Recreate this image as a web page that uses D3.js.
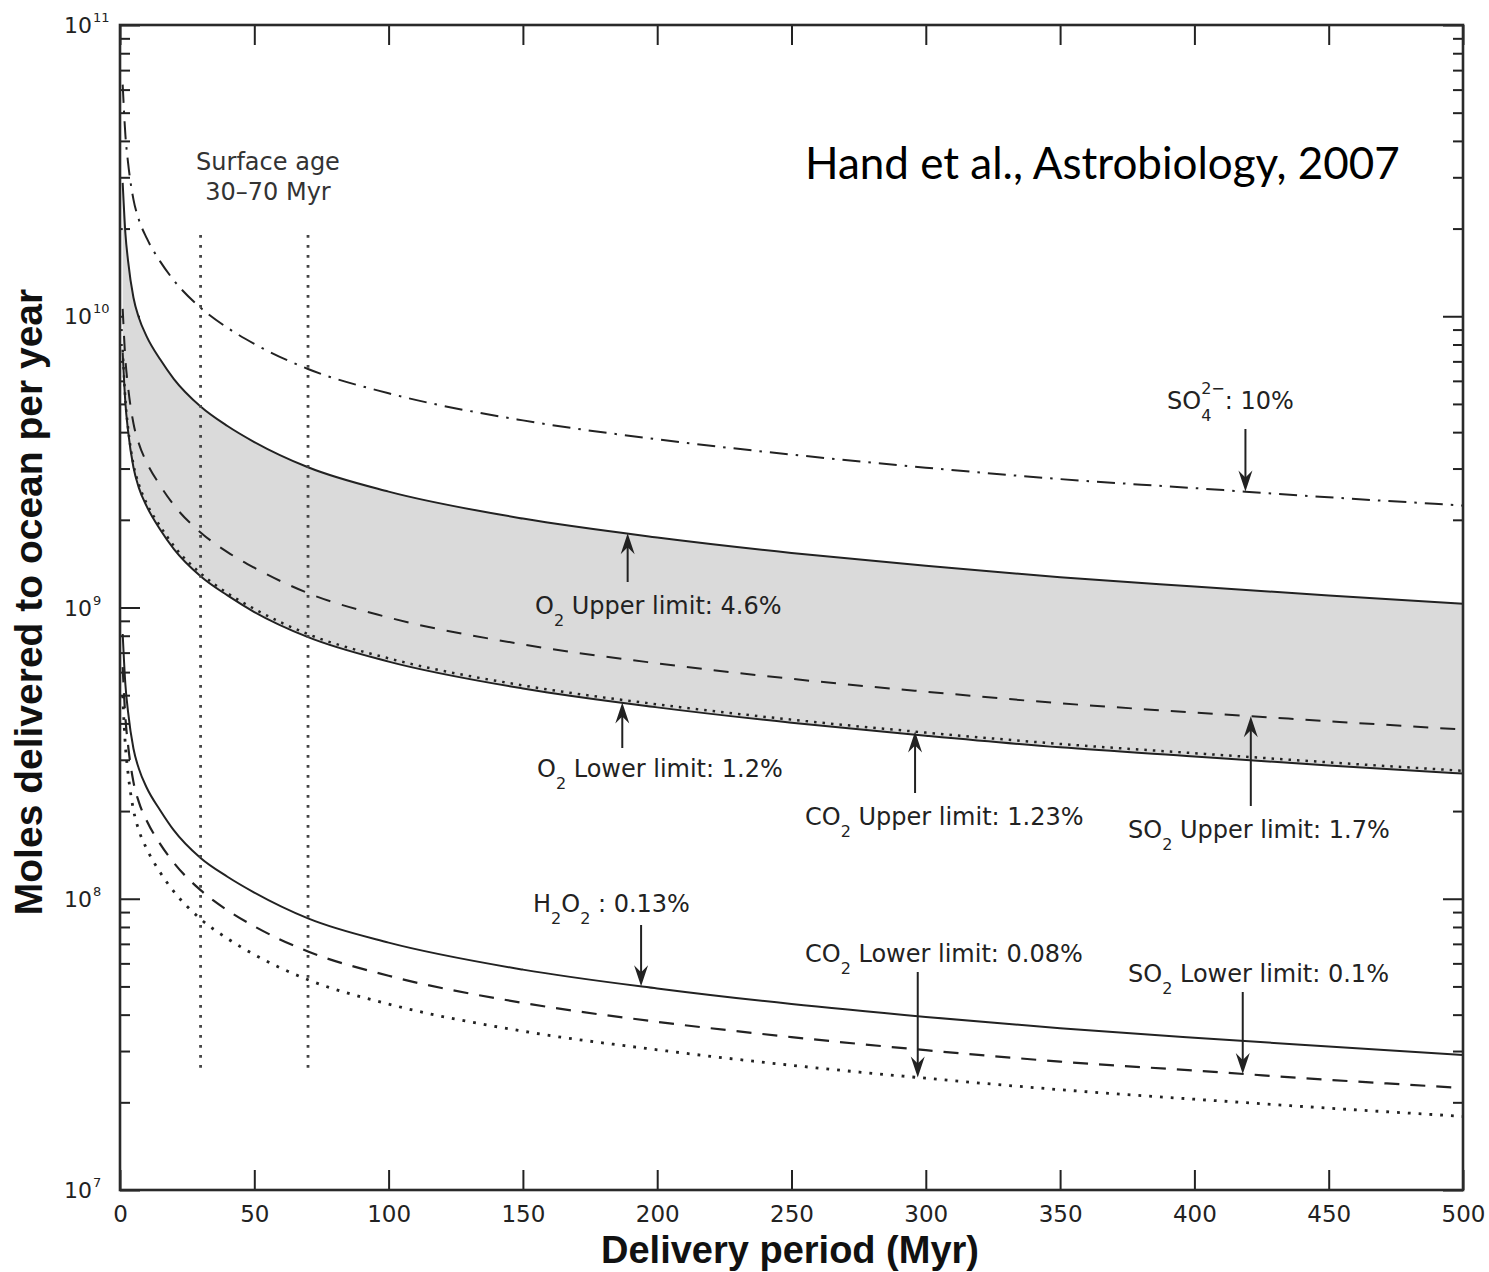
<!DOCTYPE html>
<html>
<head>
<meta charset="utf-8">
<script src="https://cdn.jsdelivr.net/npm/d3@7"></script>
<style>
  html, body { margin: 0; padding: 0; background: #fff; }
  svg { display: block; }
</style>
</head>
<body>
<svg id="chart" width="1489" height="1272"></svg>
<script>
// Delivery period samples (Myr)
const periods = [1, 2, 3, 5, 7, 10, 15, 20, 30, 40, 50, 70, 100, 150, 200, 250, 300, 350, 400, 450, 500];

// Moles delivered to the ocean per year, one array per oxidant case
const so4_10      = [6.24e10, 4.20e10, 3.37e10, 2.52e10, 2.15e10, 1.85e10, 1.54e10, 1.33e10, 1.07e10, 9.13e9, 8.04e9, 6.59e9, 5.44e9, 4.39e9, 3.78e9, 3.35e9, 3.02e9, 2.76e9, 2.57e9, 2.39e9, 2.24e9];
const o2Upper     = [2.87e10, 1.93e10, 1.55e10, 1.16e10, 9.9e9, 8.5e9, 7.1e9, 6.1e9, 4.9e9, 4.2e9, 3.7e9, 3.03e9, 2.5e9, 2.02e9, 1.74e9, 1.54e9, 1.39e9, 1.27e9, 1.18e9, 1.10e9, 1.03e9];
const so2Upper    = [1.06e10, 7.13e9, 5.73e9, 4.29e9, 3.66e9, 3.14e9, 2.62e9, 2.25e9, 1.81e9, 1.55e9, 1.37e9, 1.12e9, 9.24e8, 7.47e8, 6.43e8, 5.69e8, 5.14e8, 4.69e8, 4.36e8, 4.07e8, 3.81e8];
const co2Upper    = [7.67e9, 5.16e9, 4.14e9, 3.10e9, 2.65e9, 2.27e9, 1.90e9, 1.63e9, 1.31e9, 1.12e9, 9.89e8, 8.10e8, 6.69e8, 5.40e8, 4.65e8, 4.12e8, 3.72e8, 3.40e8, 3.16e8, 2.94e8, 2.75e8];
const o2Lower     = [7.49e9, 5.04e9, 4.04e9, 3.03e9, 2.58e9, 2.22e9, 1.85e9, 1.59e9, 1.28e9, 1.10e9, 9.65e8, 7.91e8, 6.52e8, 5.27e8, 4.54e8, 4.02e8, 3.63e8, 3.31e8, 3.08e8, 2.87e8, 2.69e8];
const h2o2        = [8.11e8, 5.45e8, 4.38e8, 3.28e8, 2.80e8, 2.40e8, 2.01e8, 1.72e8, 1.38e8, 1.19e8, 1.05e8, 8.56e7, 7.07e7, 5.71e7, 4.92e7, 4.35e7, 3.93e7, 3.59e7, 3.33e7, 3.11e7, 2.91e7];
const so2Lower    = [6.24e8, 4.20e8, 3.37e8, 2.52e8, 2.15e8, 1.85e8, 1.54e8, 1.33e8, 1.07e8, 9.13e7, 8.04e7, 6.59e7, 5.44e7, 4.39e7, 3.78e7, 3.35e7, 3.02e7, 2.76e7, 2.57e7, 2.39e7, 2.24e7];
const co2Lower    = [4.99e8, 3.36e8, 2.70e8, 2.02e8, 1.72e8, 1.48e8, 1.23e8, 1.06e8, 8.52e7, 7.30e7, 6.43e7, 5.27e7, 4.35e7, 3.51e7, 3.03e7, 2.68e7, 2.42e7, 2.21e7, 2.05e7, 1.91e7, 1.79e7];

// Axis ticks
const xTicks = [0, 50, 100, 150, 200, 250, 300, 350, 400, 450, 500];
const yDecades = [1e7, 1e8, 1e9, 1e10, 1e11];
const yExponents = ["7", "8", "9", "10", "11"];

// Surface age window (Myr) and the vertical extent of its marker lines
const surfaceAge = [30, 70];
const surfaceAgeSpan = [2.6e7, 1.9e10];

// ---------------------------------------------------------------------------
const ink = "#222";
const labelFont = "'DejaVu Sans', 'Liberation Sans', sans-serif";
const titleFont = "'Liberation Sans', Arial, Helvetica, sans-serif";

const x = d3.scaleLinear().domain([0, 500]).range([120, 1463]);
const y = d3.scaleLog().domain([1e7, 1e11]).range([1190, 25]);

const svg = d3.select("#chart");
svg.append("rect").attr("width", 1489).attr("height", 1272).attr("fill", "#fff");

const minorTicks = [];
for (const d of [1e7, 1e8, 1e9, 1e10]) for (let k = 2; k < 10; k++) minorTicks.push(d * k);

function styleAxis(g) {
  g.select(".domain").remove();
  g.selectAll(".tick line").attr("stroke", ink).attr("stroke-width", 2);
  g.selectAll(".tick text").attr("fill", ink).attr("font-family", labelFont).attr("font-size", 23);
}

// Inward-pointing ticks on all four sides
const axes = svg.append("g");
axes.append("g").attr("transform", "translate(0,1190)")
  .call(d3.axisBottom(x).tickValues(xTicks).tickSize(-20).tickPadding(16).tickFormat(d3.format("d")))
  .call(styleAxis);
axes.append("g").attr("transform", "translate(0,25)")
  .call(d3.axisTop(x).tickValues(xTicks).tickSize(-20).tickFormat(() => ""))
  .call(styleAxis);
axes.append("g").attr("transform", "translate(120,0)")
  .call(d3.axisLeft(y).tickValues(yDecades).tickSize(-20).tickFormat(() => ""))
  .call(styleAxis);
axes.append("g").attr("transform", "translate(120,0)")
  .call(d3.axisLeft(y).tickValues(minorTicks).tickSize(-10).tickFormat(() => ""))
  .call(styleAxis);
axes.append("g").attr("transform", "translate(1463,0)")
  .call(d3.axisRight(y).tickValues(yDecades).tickSize(-20).tickFormat(() => ""))
  .call(styleAxis);
axes.append("g").attr("transform", "translate(1463,0)")
  .call(d3.axisRight(y).tickValues(minorTicks).tickSize(-10).tickFormat(() => ""))
  .call(styleAxis);

// Decade labels 10^n on the left
const yLabels = svg.append("g").attr("font-family", labelFont).attr("fill", ink);
yDecades.forEach((d, i) => {
  const yy = y(d);
  yLabels.append("text").attr("x", 92).attr("y", yy + 8)
    .attr("text-anchor", "end").attr("font-size", 22).text("10");
  yLabels.append("text").attr("x", 93).attr("y", yy - 3)
    .attr("font-size", 13).text(yExponents[i]);
});

// Shaded O2 range
const pts = arr => periods.map((t, i) => [t, arr[i]]);
const band = d3.area()
  .x((d, i) => x(periods[i]))
  .y0((d, i) => y(o2Lower[i]))
  .y1((d, i) => y(o2Upper[i]))
  .curve(d3.curveMonotoneX);
svg.append("path").datum(periods).attr("d", band).attr("fill", "#dadada");

// Curves
const line = d3.line().x(d => x(d[0])).y(d => y(d[1])).curve(d3.curveMonotoneX);
const series = [
  { values: so4_10,   dash: "18,8,2.5,8", width: 2 },
  { values: o2Upper,  dash: null,        width: 2 },
  { values: so2Upper, dash: "15,12",     width: 2 },
  { values: co2Upper, dash: "2.5,6",     width: 2.5 },
  { values: o2Lower,  dash: null,        width: 2 },
  { values: h2o2,     dash: null,        width: 2 },
  { values: so2Lower, dash: "15,11",     width: 2.2 },
  { values: co2Lower, dash: "2.8,8",     width: 2.8 }
];
svg.append("g").selectAll("path").data(series).join("path")
  .attr("d", s => line(pts(s.values)))
  .attr("fill", "none")
  .attr("stroke", ink)
  .attr("stroke-width", s => s.width)
  .attr("stroke-dasharray", s => s.dash);

// Surface age markers
svg.append("g").selectAll("line").data(surfaceAge).join("line")
  .attr("x1", d => x(d)).attr("x2", d => x(d))
  .attr("y1", y(surfaceAgeSpan[1])).attr("y2", y(surfaceAgeSpan[0]))
  .attr("stroke", "#444").attr("stroke-width", 2.8).attr("stroke-dasharray", "2.8,7.2");

const sa = svg.append("g").attr("font-family", labelFont).attr("font-size", 24)
  .attr("fill", "#333").attr("text-anchor", "middle");
sa.append("text").attr("x", 268).attr("y", 170).text("Surface age");
sa.append("text").attr("x", 268).attr("y", 200).text("30\u201370 Myr");

// Plot frame
svg.append("rect").attr("x", 120).attr("y", 25).attr("width", 1343).attr("height", 1165)
  .attr("fill", "none").attr("stroke", "#2a2a2a").attr("stroke-width", 2.6);

// Value of a curve at period t (log-linear between samples), for placing arrow tips
function valueAt(arr, t) {
  let i = d3.bisectRight(periods, t) - 1;
  i = Math.max(0, Math.min(periods.length - 2, i));
  const f = (t - periods[i]) / (periods[i + 1] - periods[i]);
  return Math.exp(Math.log(arr[i]) + f * (Math.log(arr[i + 1]) - Math.log(arr[i])));
}

// Annotations: arrow to a curve plus a chemical label
const notes = [
  { arr: o2Upper,  t: 189, dir: "up",   tail: 582, lx: 535,  ly: 614, parts: [["O"], ["2", "sub"], [" Upper limit: 4.6%"]] },
  { arr: o2Lower,  t: 187, dir: "up",   tail: 748, lx: 537,  ly: 777, parts: [["O"], ["2", "sub"], [" Lower limit: 1.2%"]] },
  { arr: co2Upper, t: 296, dir: "up",   tail: 793, lx: 805,  ly: 825, parts: [["CO"], ["2", "sub"], [" Upper limit: 1.23%"]] },
  { arr: so2Upper, t: 421, dir: "up",   tail: 806, lx: 1128, ly: 838, parts: [["SO"], ["2", "sub"], [" Upper limit: 1.7%"]] },
  { arr: so4_10,   t: 419, dir: "down", tail: 429, lx: 1167, ly: 409, parts: [["SO"], ["4", "sub"], ["2\u2212", "sup"], [": 10%"]] },
  { arr: h2o2,     t: 194, dir: "down", tail: 925, lx: 533,  ly: 912, parts: [["H"], ["2", "sub"], ["O"], ["2", "sub"], [" : 0.13%"]] },
  { arr: co2Lower, t: 297, dir: "down", tail: 972, lx: 805,  ly: 962, parts: [["CO"], ["2", "sub"], [" Lower limit: 0.08%"]] },
  { arr: so2Lower, t: 418, dir: "down", tail: 992, lx: 1128, ly: 982, parts: [["SO"], ["2", "sub"], [" Lower limit: 0.1%"]] }
];

const ann = svg.append("g");
notes.forEach(n => {
  const ax = x(n.t);
  const tip = y(valueAt(n.arr, n.t));
  const s = n.dir === "up" ? 1 : -1;
  ann.append("line").attr("x1", ax).attr("x2", ax)
    .attr("y1", n.tail).attr("y2", tip + s * 12)
    .attr("stroke", ink).attr("stroke-width", 2);
  ann.append("path")
    .attr("d", `M0,0 L-7,${21 * s} L0,${14 * s} L7,${21 * s} Z`)
    .attr("transform", `translate(${ax},${tip})`)
    .attr("fill", ink);

  const txt = ann.append("text").attr("x", n.lx).attr("y", n.ly)
    .attr("font-family", labelFont).attr("font-size", 24).attr("fill", ink);
  let shift = 0, lastSubWidth = 0;
  n.parts.forEach(([str, kind]) => {
    const sp = txt.append("tspan").text(str);
    if (kind === "sub") {
      sp.attr("font-size", 16).attr("dy", 12 - shift);
      shift = 12;
      lastSubWidth = sp.node().getComputedTextLength();
    } else if (kind === "sup") {
      sp.attr("font-size", 16).attr("dx", -lastSubWidth).attr("dy", -15 - shift);
      shift = -15;
    } else {
      sp.attr("dy", -shift);
      shift = 0;
    }
  });
});

// Axis titles
svg.append("text").attr("x", 790).attr("y", 1263).attr("text-anchor", "middle")
  .attr("font-family", titleFont).attr("font-weight", "bold").attr("font-size", 38)
  .attr("fill", "#111").text("Delivery period (Myr)");
svg.append("text").attr("transform", "translate(42,602) rotate(-90)").attr("text-anchor", "middle")
  .attr("font-family", titleFont).attr("font-weight", "bold").attr("font-size", 39)
  .attr("fill", "#111").text("Moles delivered to ocean per year");

// Source credit
const credit = svg.append("text").attr("x", 805).attr("y", 179)
  .attr("font-family", "Lato, 'Open Sans', sans-serif").attr("font-size", 47)
  .attr("fill", "#000").text("Hand et al., Astrobiology, 2007");
const cw = credit.node().getComputedTextLength();
credit.attr("font-size", 47 * 595 / cw);
</script>
</body>
</html>
